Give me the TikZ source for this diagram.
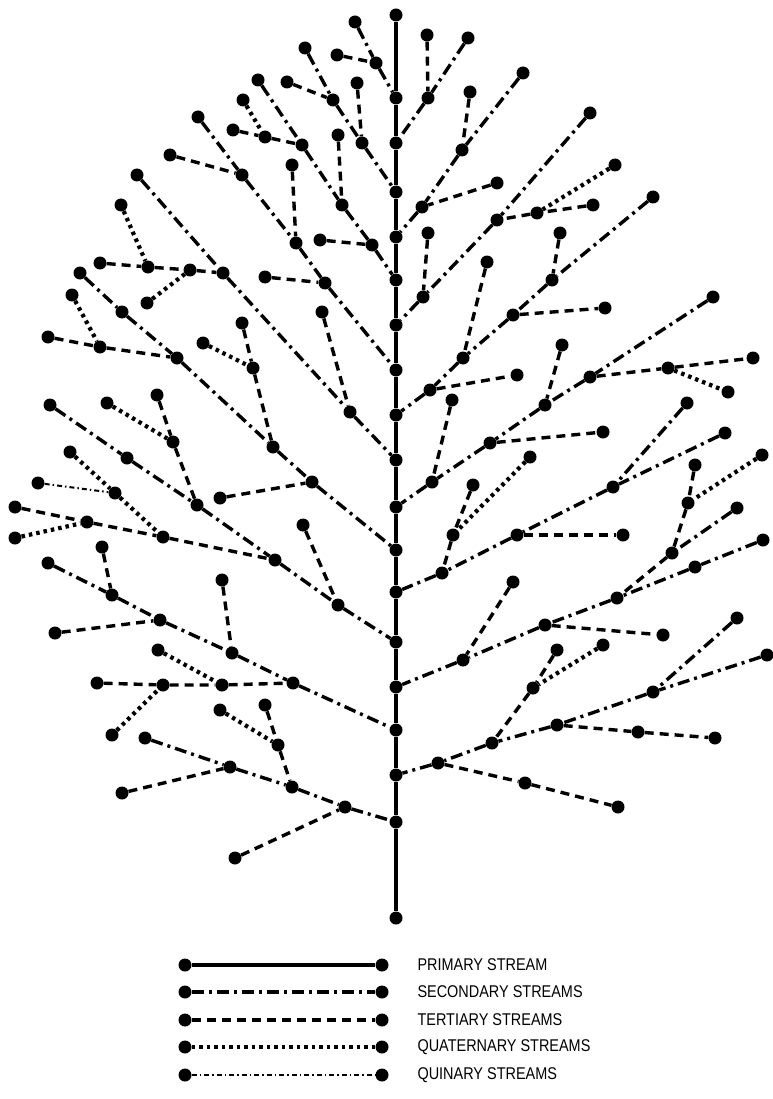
\documentclass[tikz,border=0pt]{standalone}
\usepackage{fontspec}
\newfontfamily\legfont[FakeStretch=0.85]{Liberation Sans}

\begin{document}
\begin{tikzpicture}[
  x=1pt, y=-1pt,
  pnt/.style={circle, fill=black, inner sep=0pt, minimum size=13pt},
  prim/.style={line width=3.2pt},
  sec/.style={line width=3.4pt, dash pattern=on 12pt off 5pt on 3pt off 5pt},
  ter/.style={line width=3.4pt, dash pattern=on 9pt off 6pt},
  quat/.style={line width=4.2pt, dash pattern=on 3.5pt off 4pt},
  quin/.style={line width=2pt, dash pattern=on 5pt off 3pt on 1.5pt off 3pt},
  lab/.style={anchor=west, font=\legfont\fontsize{17}{19}\selectfont},
]
  \useasboundingbox (0,0) rectangle (772,1099);

  % trunk
  \node[pnt] (t0) at (396,15) {};   \node[pnt] (t1) at (396,98) {};
  \node[pnt] (t2) at (396,143) {};  \node[pnt] (t3) at (396,192) {};
  \node[pnt] (t4) at (396,237) {};  \node[pnt] (t5) at (396,280) {};
  \node[pnt] (t6) at (396,325) {};  \node[pnt] (t7) at (396,370) {};
  \node[pnt] (t8) at (396,415) {};  \node[pnt] (t9) at (396,460) {};
  \node[pnt] (t10) at (396,507) {}; \node[pnt] (t11) at (396,550) {};
  \node[pnt] (t12) at (396,592) {}; \node[pnt] (t13) at (396,642) {};
  \node[pnt] (t14) at (396,687) {}; \node[pnt] (t15) at (396,730) {};
  \node[pnt] (t16) at (396,775) {}; \node[pnt] (t17) at (396,822) {};
  \node[pnt] (t18) at (396,918) {};
  \draw[prim] (t0) -- (t1) -- (t2) -- (t3) -- (t4) -- (t5) -- (t6) -- (t7) -- (t8) -- (t9)
    -- (t10) -- (t11) -- (t12) -- (t13) -- (t14) -- (t15) -- (t16) -- (t17) -- (t18);

  % left side
  \node[pnt] (l1a) at (355,22) {}; \node[pnt] (l1b) at (337,55) {}; \node[pnt] (l1c) at (376,63) {};
  \draw[sec] (l1a) -- (l1c) -- (t1);
  \draw[ter] (l1b) -- (l1c);

  \node[pnt] (l2a) at (305,48) {}; \node[pnt] (l2b) at (287,82) {}; \node[pnt] (l2c) at (333,100) {};
  \node[pnt] (l2d) at (357,83) {}; \node[pnt] (l2e) at (362,143) {};
  \draw[sec] (l2a) -- (l2c) -- (l2e) -- (t3);
  \draw[ter] (l2b) -- (l2c);
  \draw[ter] (l2d) -- (l2e);

  \node[pnt] (l3a) at (258,80) {};  \node[pnt] (l3b) at (243,100) {}; \node[pnt] (l3c) at (233,130) {};
  \node[pnt] (l3d) at (265,137) {}; \node[pnt] (l3e) at (302,145) {}; \node[pnt] (l3f) at (338,135) {};
  \node[pnt] (l3g) at (342,205) {}; \node[pnt] (l3h) at (320,240) {}; \node[pnt] (l3i) at (372,245) {};
  \draw[sec] (l3a) -- (l3e) -- (l3g) -- (l3i) -- (t5);
  \draw[quat] (l3b) -- (l3d);
  \draw[ter] (l3c) -- (l3d) -- (l3e);
  \draw[ter] (l3f) -- (l3g);
  \draw[ter] (l3h) -- (l3i);

  \node[pnt] (l4a) at (198,117) {}; \node[pnt] (l4b) at (170,155) {}; \node[pnt] (l4c) at (242,175) {};
  \node[pnt] (l4d) at (292,165) {}; \node[pnt] (l4e) at (296,243) {}; \node[pnt] (l4f) at (265,277) {};
  \node[pnt] (l4g) at (325,283) {};
  \draw[sec] (l4a) -- (l4c) -- (l4e) -- (l4g) -- (t7);
  \draw[ter] (l4b) -- (l4c);
  \draw[ter] (l4d) -- (l4e);
  \draw[ter] (l4f) -- (l4g);

  \node[pnt] (l5a) at (137,175) {}; \node[pnt] (l5b) at (121,205) {}; \node[pnt] (l5c) at (100,263) {};
  \node[pnt] (l5d) at (148,267) {}; \node[pnt] (l5e) at (147,303) {}; \node[pnt] (l5f) at (190,270) {};
  \node[pnt] (l5g) at (223,273) {}; \node[pnt] (l5h) at (322,312) {}; \node[pnt] (l5i) at (350,412) {};
  \draw[sec] (l5a) -- (l5g) -- (l5i) -- (t9);
  \draw[ter] (l5c) -- (l5d) -- (l5f) -- (l5g);
  \draw[quat] (l5b) -- (l5d);
  \draw[quat] (l5e) -- (l5f);
  \draw[ter] (l5h) -- (l5i);

  \node[pnt] (l6a) at (80,273) {};  \node[pnt] (l6b) at (72,295) {};  \node[pnt] (l6c) at (122,312) {};
  \node[pnt] (l6d) at (48,337) {};  \node[pnt] (l6e) at (100,347) {}; \node[pnt] (l6f) at (177,358) {};
  \node[pnt] (l6g) at (242,323) {}; \node[pnt] (l6h) at (203,343) {}; \node[pnt] (l6i) at (253,368) {};
  \node[pnt] (l6j) at (273,447) {}; \node[pnt] (l6k) at (220,498) {}; \node[pnt] (l6l) at (312,482) {};
  \draw[sec] (l6a) -- (l6c) -- (l6f) -- (l6j) -- (l6l) -- (t11);
  \draw[quat] (l6b) -- (l6e);
  \draw[ter] (l6d) -- (l6e) -- (l6f);
  \draw[ter] (l6g) -- (l6i) -- (l6j);
  \draw[quat] (l6h) -- (l6i);
  \draw[ter] (l6k) -- (l6l);

  \node[pnt] (l7a) at (50,405) {};  \node[pnt] (l7b) at (157,395) {}; \node[pnt] (l7c) at (107,403) {};
  \node[pnt] (l7d) at (127,458) {}; \node[pnt] (l7e) at (173,442) {}; \node[pnt] (l7f) at (197,505) {};
  \node[pnt] (l7g) at (70,452) {};  \node[pnt] (l7h) at (38,483) {};  \node[pnt] (l7i) at (115,493) {};
  \node[pnt] (l7j) at (15,507) {};  \node[pnt] (l7k) at (15,538) {};  \node[pnt] (l7l) at (87,522) {};
  \node[pnt] (l7m) at (163,537) {}; \node[pnt] (l7n) at (275,560) {}; \node[pnt] (l7o) at (303,525) {};
  \node[pnt] (l7p) at (338,605) {};
  \draw[sec] (l7a) -- (l7d) -- (l7f) -- (l7n) -- (l7p) -- (t13);
  \draw[ter] (l7b) -- (l7e) -- (l7f);
  \draw[quat] (l7c) -- (l7e);
  \draw[quat] (l7g) -- (l7i) -- (l7m);
  \draw[quin] (l7h) -- (l7i);
  \draw[ter] (l7j) -- (l7l) -- (l7m) -- (l7n);
  \draw[quat] (l7k) -- (l7l);
  \draw[ter] (l7o) -- (l7p);

  \node[pnt] (l8a) at (48,563) {};  \node[pnt] (l8b) at (102,547) {}; \node[pnt] (l8c) at (112,595) {};
  \node[pnt] (l8d) at (55,633) {};  \node[pnt] (l8e) at (160,620) {}; \node[pnt] (l8f) at (222,580) {};
  \node[pnt] (l8g) at (232,653) {}; \node[pnt] (l8h) at (97,683) {};  \node[pnt] (l8i) at (158,650) {};
  \node[pnt] (l8j) at (112,735) {}; \node[pnt] (l8k) at (163,685) {}; \node[pnt] (l8l) at (222,685) {};
  \node[pnt] (l8m) at (293,683) {};
  \draw[sec] (l8a) -- (l8c) -- (l8e) -- (l8g) -- (l8m) -- (t15);
  \draw[ter] (l8b) -- (l8c);
  \draw[ter] (l8d) -- (l8e);
  \draw[ter] (l8f) -- (l8g);
  \draw[ter] (l8h) -- (l8k) -- (l8l) -- (l8m);
  \draw[quat] (l8i) -- (l8l);
  \draw[quat] (l8j) -- (l8k);

  \node[pnt] (l9a) at (145,738) {}; \node[pnt] (l9b) at (122,793) {}; \node[pnt] (l9c) at (230,767) {};
  \node[pnt] (l9d) at (220,710) {}; \node[pnt] (l9e) at (265,705) {}; \node[pnt] (l9f) at (278,745) {};
  \node[pnt] (l9g) at (292,787) {}; \node[pnt] (l9h) at (235,858) {}; \node[pnt] (l9i) at (345,807) {};
  \draw[sec] (l9a) -- (l9c) -- (l9g) -- (l9i) -- (t17);
  \draw[ter] (l9b) -- (l9c);
  \draw[quat] (l9d) -- (l9f);
  \draw[ter] (l9e) -- (l9f) -- (l9g);
  \draw[ter] (l9h) -- (l9i);

  % right side
  \node[pnt] (r1a) at (468,38) {}; \node[pnt] (r1b) at (427,35) {}; \node[pnt] (r1c) at (428,98) {};
  \draw[sec] (r1a) -- (r1c) -- (t2);
  \draw[ter] (r1b) -- (r1c);

  \node[pnt] (r2a) at (523,73) {}; \node[pnt] (r2b) at (470,92) {}; \node[pnt] (r2c) at (462,150) {};
  \node[pnt] (r2d) at (497,183) {}; \node[pnt] (r2e) at (422,207) {};
  \draw[sec] (r2a) -- (r2c) -- (r2e) -- (t4);
  \draw[ter] (r2b) -- (r2c);
  \draw[ter] (r2d) -- (r2e);

  \node[pnt] (r3a) at (590,113) {}; \node[pnt] (r3b) at (615,165) {}; \node[pnt] (r3c) at (593,205) {};
  \node[pnt] (r3d) at (537,213) {}; \node[pnt] (r3e) at (497,220) {}; \node[pnt] (r3f) at (428,233) {};
  \node[pnt] (r3g) at (423,297) {};
  \draw[sec] (r3a) -- (r3e) -- (r3g) -- (t6);
  \draw[quat] (r3b) -- (r3d);
  \draw[ter] (r3c) -- (r3d) -- (r3e);
  \draw[ter] (r3f) -- (r3g);

  \node[pnt] (r4a) at (653,197) {}; \node[pnt] (r4b) at (560,233) {}; \node[pnt] (r4c) at (552,280) {};
  \node[pnt] (r4d) at (513,315) {}; \node[pnt] (r4e) at (605,308) {}; \node[pnt] (r4f) at (487,262) {};
  \node[pnt] (r4g) at (463,358) {}; \node[pnt] (r4h) at (517,375) {}; \node[pnt] (r4i) at (430,390) {};
  \draw[sec] (r4a) -- (r4c) -- (r4d) -- (r4g) -- (r4i) -- (t8);
  \draw[ter] (r4b) -- (r4c);
  \draw[ter] (r4d) -- (r4e);
  \draw[ter] (r4f) -- (r4g);
  \draw[ter] (r4i) -- (r4h);

  \node[pnt] (r5a) at (713,297) {}; \node[pnt] (r5b) at (753,358) {}; \node[pnt] (r5c) at (728,392) {};
  \node[pnt] (r5d) at (668,368) {}; \node[pnt] (r5e) at (590,377) {}; \node[pnt] (r5f) at (562,345) {};
  \node[pnt] (r5g) at (545,405) {}; \node[pnt] (r5h) at (603,432) {}; \node[pnt] (r5i) at (490,443) {};
  \node[pnt] (r5j) at (452,400) {}; \node[pnt] (r5k) at (432,482) {};
  \draw[sec] (r5a) -- (r5e) -- (r5g) -- (r5i) -- (r5k) -- (t10);
  \draw[ter] (r5e) -- (r5d) -- (r5b);
  \draw[quat] (r5d) -- (r5c);
  \draw[ter] (r5f) -- (r5g);
  \draw[ter] (r5i) -- (r5h);
  \draw[ter] (r5j) -- (r5k);

  \node[pnt] (r6a) at (687,403) {}; \node[pnt] (r6b) at (725,433) {}; \node[pnt] (r6c) at (613,487) {};
  \node[pnt] (r6d) at (623,535) {}; \node[pnt] (r6e) at (517,535) {}; \node[pnt] (r6f) at (530,457) {};
  \node[pnt] (r6g) at (473,485) {}; \node[pnt] (r6h) at (453,535) {}; \node[pnt] (r6i) at (442,573) {};
  \draw[sec] (r6a) -- (r6c) -- (r6e) -- (r6i) -- (t12);
  \draw[sec] (r6b) -- (r6c);
  \draw[ter] (r6e) -- (r6d);
  \draw[ter] (r6g) -- (r6h) -- (r6i);
  \draw[quat] (r6f) -- (r6h);

  \node[pnt] (r7a) at (695,465) {}; \node[pnt] (r7b) at (762,455) {}; \node[pnt] (r7c) at (688,503) {};
  \node[pnt] (r7d) at (737,508) {}; \node[pnt] (r7e) at (672,553) {}; \node[pnt] (r7f) at (763,540) {};
  \node[pnt] (r7g) at (695,567) {}; \node[pnt] (r7h) at (617,598) {}; \node[pnt] (r7i) at (663,635) {};
  \node[pnt] (r7j) at (545,625) {}; \node[pnt] (r7k) at (513,582) {}; \node[pnt] (r7l) at (463,660) {};
  \draw[sec] (r7f) -- (r7g) -- (r7h) -- (r7j) -- (r7l) -- (t14);
  \draw[ter] (r7a) -- (r7c) -- (r7e) -- (r7h);
  \draw[quat] (r7b) -- (r7c);
  \draw[sec] (r7d) -- (r7e);
  \draw[ter] (r7j) -- (r7i);
  \draw[ter] (r7k) -- (r7l);

  \node[pnt] (r8a) at (737,618) {}; \node[pnt] (r8b) at (767,655) {}; \node[pnt] (r8c) at (653,692) {};
  \node[pnt] (r8d) at (715,738) {}; \node[pnt] (r8e) at (638,732) {}; \node[pnt] (r8f) at (557,725) {};
  \node[pnt] (r8g) at (557,650) {}; \node[pnt] (r8h) at (603,645) {}; \node[pnt] (r8i) at (533,688) {};
  \node[pnt] (r8j) at (492,743) {}; \node[pnt] (r8k) at (618,807) {}; \node[pnt] (r8l) at (525,783) {};
  \node[pnt] (r8m) at (438,763) {};
  \draw[sec] (r8a) -- (r8c) -- (r8f) -- (r8j) -- (r8m) -- (t16);
  \draw[sec] (r8b) -- (r8c);
  \draw[ter] (r8f) -- (r8e) -- (r8d);
  \draw[ter] (r8g) -- (r8i) -- (r8j);
  \draw[quat] (r8h) -- (r8i);
  \draw[ter] (r8m) -- (r8l) -- (r8k);

  % legend
  \node[pnt] (k1a) at (185,965) {};  \node[pnt] (k1b) at (382,965) {};
  \node[pnt] (k2a) at (185,992) {};  \node[pnt] (k2b) at (382,992) {};
  \node[pnt] (k3a) at (185,1020) {}; \node[pnt] (k3b) at (382,1020) {};
  \node[pnt] (k4a) at (185,1047) {}; \node[pnt] (k4b) at (382,1047) {};
  \node[pnt] (k5a) at (185,1075) {}; \node[pnt] (k5b) at (382,1075) {};
  \draw[prim, line width=4.5pt] (k1a) -- (k1b);
  \draw[sec]  (k2a) -- (k2b);
  \draw[ter]  (k3a) -- (k3b);
  \draw[quat] (k4a) -- (k4b);
  \draw[quin] (k5a) -- (k5b);
  \node[lab] at (414,965)  {PRIMARY STREAM};
  \node[lab] at (414,992)  {SECONDARY STREAMS};
  \node[lab] at (414,1020) {TERTIARY STREAMS};
  \node[lab] at (414,1047) {QUATERNARY STREAMS};
  \node[lab] at (414,1075) {QUINARY STREAMS};
\end{tikzpicture}
\end{document}
